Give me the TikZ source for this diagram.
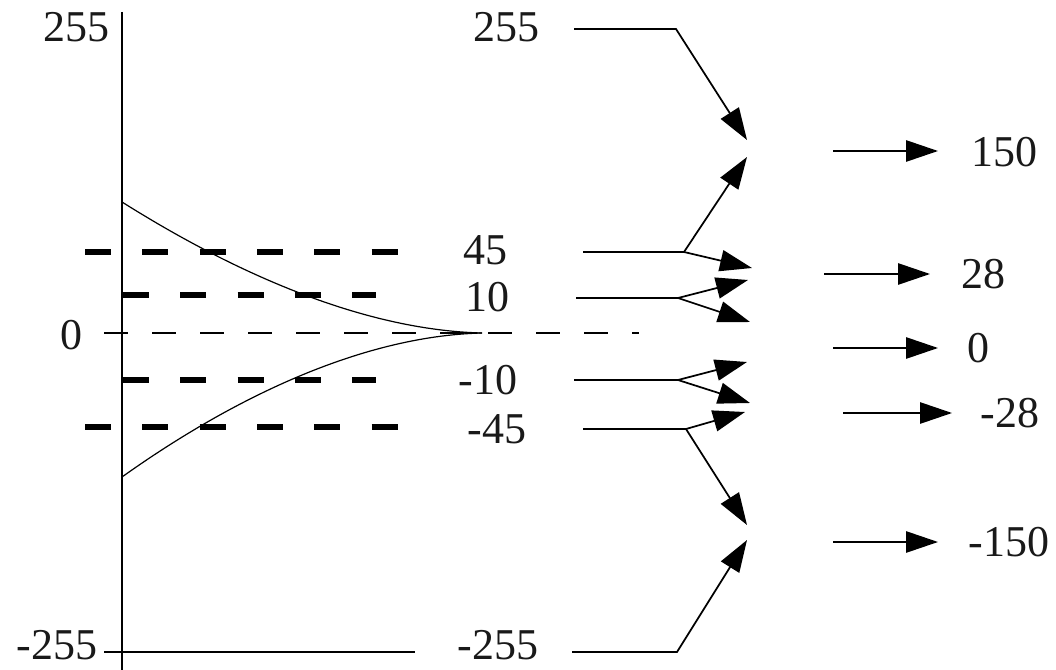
\documentclass[tikz,border=0pt]{standalone}
\usepackage{fontspec}
\setmainfont{Liberation Serif}
\usetikzlibrary{arrows.meta}
\begin{document}
\begin{tikzpicture}[x=0.75pt,y=-0.75pt,
  lbl/.style={font=\fontsize{33}{40}\selectfont, text=black!90, inner sep=0pt, anchor=center},
  conn/.style={line width=1.3pt, -{Triangle[length=24pt,width=16pt]}},
  thickdash/.style={line width=4.3pt, dash pattern=on 19.5pt off 23.5pt},
  thindash/.style={line width=1.1pt, dash pattern=on 18pt off 18pt},
  axisline/.style={line width=1.4pt},
  curveline/.style={line width=0.9pt}]
\useasboundingbox (0,0) rectangle (1056,670);

% left labels
\node[lbl] (l255) at (76,27) {255};
\node[lbl] (l0) at (71,335) {0};
\node[lbl] (lm255) at (57,645) {-255};

% axes
\coordinate (atop) at (122,12);
\coordinate (abot) at (122,670);
\coordinate (hbl) at (104,652);
\coordinate (hbr) at (415,652);
\draw[axisline] (atop) -- (abot);
\draw[axisline] (hbl) -- (hbr);

% zero dashed line
\coordinate (zl) at (104,333);
\coordinate (zr) at (639,333);
\draw[thindash] (zl) -- (zr);

% thick dashed thresholds
\coordinate (d45l) at (85,252);  \coordinate (d45r) at (398,252);
\coordinate (d10l) at (123,295); \coordinate (d10r) at (376,295);
\coordinate (dm10l) at (123,380); \coordinate (dm10r) at (376,380);
\coordinate (dm45l) at (85,427); \coordinate (dm45r) at (398,427);
\draw[thickdash] (d45l) -- (d45r);
\draw[thickdash] (d10l) -- (d10r);
\draw[thickdash] (dm10l) -- (dm10r);
\draw[thickdash] (dm45l) -- (dm45r);

% curves
\coordinate (cu) at (122,202);
\coordinate (cl) at (122,477);
\coordinate (cend) at (482,333);
\draw[curveline] (cu) .. controls (230,270) and (360,330) .. (cend);
\draw[curveline] (cl) .. controls (230,400) and (360,336) .. (cend);

% middle labels
\node[lbl] (m255) at (506,27) {255};
\node[lbl] (m45) at (485,250) {45};
\node[lbl] (m10) at (487,297) {10};
\node[lbl] (mm10) at (488,380) {-10};
\node[lbl] (mm45) at (497,429) {-45};
\node[lbl] (mm255) at (498,645) {-255};

% connector coordinates
\coordinate (s255) at (574,29);  \coordinate (k255) at (676,29);
\coordinate (s45) at (583,252);  \coordinate (k45) at (684,252);
\coordinate (s10) at (576,298);  \coordinate (k10) at (678,298);
\coordinate (sm10) at (574,380); \coordinate (km10) at (678,380);
\coordinate (sm45) at (583,429); \coordinate (km45) at (686,429);
\coordinate (sm255) at (572,652); \coordinate (km255) at (677,652);

\coordinate (t150a) at (747,140);
\coordinate (t150b) at (747,157);
\coordinate (t28a) at (752,268);
\coordinate (t28b) at (748,280);
\coordinate (t0a) at (750,322);
\coordinate (t0b) at (747,362);
\coordinate (tm28a) at (750,403);
\coordinate (tm28b) at (745,412);
\coordinate (tm150a) at (747,525);
\coordinate (tm150b) at (747,540);

\draw[conn] (s255) -- (k255) -- (t150a);
\draw[conn] (s45) -- (k45) -- (t28a);
\draw[conn] (k45) -- (t150b);
\draw[conn] (s10) -- (k10) -- (t28b);
\draw[conn] (k10) -- (t0a);
\draw[conn] (sm10) -- (km10) -- (t0b);
\draw[conn] (km10) -- (tm28a);
\draw[conn] (sm45) -- (km45) -- (tm28b);
\draw[conn] (km45) -- (tm150a);
\draw[conn] (sm255) -- (km255) -- (tm150b);

% right column
\node[lbl] (r150) at (1004,152) {150};
\node[lbl] (r28) at (983,274) {28};
\node[lbl] (r0) at (978,348) {0};
\node[lbl] (rm28) at (1010,413) {-28};
\node[lbl] (rm150) at (1009,542) {-150};

\coordinate (a150s) at (833,151); \coordinate (a150t) at (938,151);
\coordinate (a28s) at (824,274);  \coordinate (a28t) at (930,274);
\coordinate (a0s) at (833,348);   \coordinate (a0t) at (938,348);
\coordinate (am28s) at (843,413); \coordinate (am28t) at (952,413);
\coordinate (am150s) at (833,542); \coordinate (am150t) at (938,542);
\draw[conn] (a150s) -- (a150t);
\draw[conn] (a28s) -- (a28t);
\draw[conn] (a0s) -- (a0t);
\draw[conn] (am28s) -- (am28t);
\draw[conn] (am150s) -- (am150t);
\end{tikzpicture}
\end{document}
